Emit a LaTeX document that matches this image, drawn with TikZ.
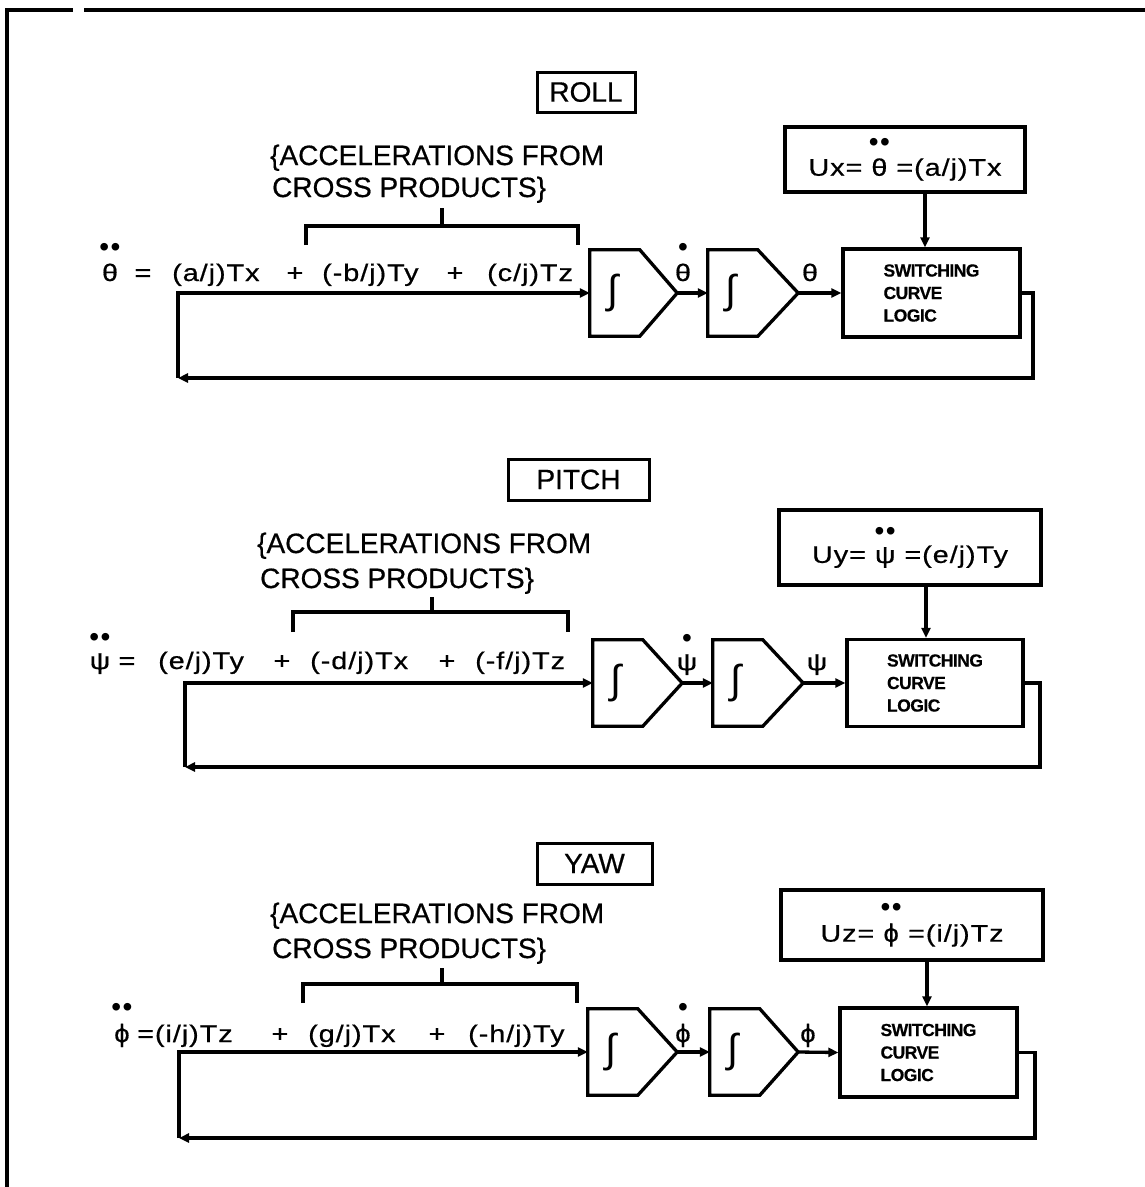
\documentclass[tikz,border=0pt]{standalone}
\usepackage{fontspec}
\setmainfont{Liberation Sans}
\newfontfamily\eqf[FakeStretch=1.2,LetterSpace=4,FakeBold=0.6]{Liberation Sans}
\newfontfamily\accf[FakeBold=0.6]{Liberation Sans}
\newfontfamily\swf[LetterSpace=-3,FakeBold=0.5]{Liberation Sans}
\newfontfamily\phif[FakeBold=0.6]{DejaVu Sans}
\newcommand\phic{{\phif ϕ}}
\usetikzlibrary{arrows.meta,calc}
\newcommand\dotsover[2]{\leavevmode\setbox0\hbox{#2}\rlap{\hbox to\wd0{\hss\raisebox{\dimexpr\ht0+7pt\relax}{\normalfont\fontsize{28}{28}\selectfont #1}\hss}}\box0\relax}
\newcommand\ddt[1]{\dotsover{•\kern1.5pt•}{#1}}
\newcommand\sdt[1]{\dotsover{•}{#1}}
\tikzset{
  blk/.style={line width=3.3pt, line join=miter},
  arr/.style={blk, -{Triangle[length=10pt,width=9pt]}},
  eq/.style={font=\eqf\fontsize{24}{28}\selectfont, inner sep=0pt, anchor=base west},
  eqc/.style={font=\eqf\fontsize{24}{28}\selectfont, inner sep=0pt, anchor=base},
  acc/.style={font=\accf\fontsize{28}{32}\selectfont, inner sep=0pt, anchor=base west},
  ttl/.style={draw, line width=3pt, font=\accf\fontsize{28}{32}\selectfont, inner sep=0pt},
  ubox/.style={draw, line width=3.3pt, font=\eqf\fontsize{24}{28}\selectfont, inner sep=0pt},
  swbox/.style={draw, line width=3.3pt, font=\swf\bfseries\fontsize{17.5}{22.5}\selectfont, align=left, inner sep=0pt},
  intg/.style={minimum height=86pt, inner sep=0pt},
  isym/.style={font=\fontsize{40}{40}\selectfont, inner sep=0pt},
}
\newcommand\integ[3]{%
  \node[intg, minimum width=#3] (#1) at #2 {};
  \draw[blk] (#1.north west) -- ([xshift=50pt]#1.north west) -- (#1.east) -- ([xshift=50pt]#1.south west) -- (#1.south west) -- cycle;
  \node[isym] (#1-s) at ([xshift=23pt]#1.west) {∫};
}
\begin{document}
\begin{tikzpicture}[x=1pt,y=-1pt]
\useasboundingbox (0,0) rectangle (1145,1187);
% frame
\coordinate (f1) at (5,10); \coordinate (f2) at (73,10);
\coordinate (f3) at (84,10); \coordinate (f4) at (1145,10);
\coordinate (f5) at (7,9); \coordinate (f6) at (7,1187);
\draw[line width=3.3pt] (f1) -- (f2) (f3) -- (f4);
\draw[line width=3.3pt] (f5) -- (f6);

% ================= ROLL =================
\node[ttl, minimum width=98pt, minimum height=40pt] (r-t) at (586,92) {ROLL};
\node[acc] (r-a1) at (270,165) {\{ACCELERATIONS FROM};
\node[acc] (r-a2) at (272,197) {CROSS PRODUCTS\}};
\coordinate (r-b1) at (306,245); \coordinate (r-b2) at (306,226);
\coordinate (r-b3) at (578,226); \coordinate (r-b4) at (578,245);
\coordinate (r-bs) at (442,208); \coordinate (r-bm) at (442,226);
\draw[blk] (r-b1) -- (r-b2) -- (r-b3) -- (r-b4);
\draw[blk] (r-bs) -- (r-bm);
\node[eqc] (r-e0) at (110,281) {\ddt{θ}};
\node[eqc] (r-eq) at (143,281) {=};
\node[eq] (r-e1) at (172,281) {(a/j)Tx};
\node[eqc] (r-p1) at (295,281) {+};
\node[eq] (r-e2) at (322,281) {(-b/j)Ty};
\node[eqc] (r-p2) at (455,281) {+};
\node[eq] (r-e3) at (487,281) {(c/j)Tz};
\integ{r-i1}{(633.5,293)}{87pt}
\integ{r-i2}{(753,293)}{90pt}
\node[eqc] (r-l1) at (683,281) {\sdt{θ}};
\node[eqc] (r-l2) at (810,281) {θ};
\node[swbox, minimum width=177pt, minimum height=88pt] (r-sw) at (931.5,293) {SWITCHING\\CURVE\\LOGIC};
\node[ubox, minimum width=240pt, minimum height=65pt] (r-u) at (905,159.5) {Ux= \ddt{θ} =(a/j)Tx};
\coordinate (r-fr) at (1033,378); \coordinate (r-fl) at (178,378); \coordinate (r-in) at (178,293);
\draw[arr] (r-sw.east) -| (r-fr) -- (r-fl);
\draw[arr] (r-fl) -- (r-in) -- (r-i1.west);
\draw[arr] (r-i1.east) -- (r-i2.west);
\draw[arr] (r-i2.east) -- (r-sw.west);
\draw[arr] ([xshift=20pt]r-u.south) -- ([xshift=20pt]r-u.south |- r-sw.north);

% ================= PITCH =================
\node[ttl, minimum width=141pt, minimum height=41pt] (p-t) at (578.5,479.5) {PITCH};
\node[acc] (p-a1) at (257,553) {\{ACCELERATIONS FROM};
\node[acc] (p-a2) at (260,588) {CROSS PRODUCTS\}};
\coordinate (p-b1) at (293,632); \coordinate (p-b2) at (293,612);
\coordinate (p-b3) at (568,612); \coordinate (p-b4) at (568,632);
\coordinate (p-bs) at (432,597); \coordinate (p-bm) at (432,612);
\draw[blk] (p-b1) -- (p-b2) -- (p-b3) -- (p-b4);
\draw[blk] (p-bs) -- (p-bm);
\node[eqc] (p-e0) at (100,669) {\ddt{ψ}};
\node[eqc] (p-eq) at (127,669) {=};
\node[eq] (p-e1) at (158,669) {(e/j)Ty};
\node[eqc] (p-p1) at (282,669) {+};
\node[eq] (p-e2) at (310,669) {(-d/j)Tx};
\node[eqc] (p-p2) at (447,669) {+};
\node[eq] (p-e3) at (475,669) {(-f/j)Tz};
\integ{p-i1}{(637.5,683)}{89pt}
\integ{p-i2}{(758,683)}{90pt}
\node[eqc] (p-l1) at (687,670) {\sdt{ψ}};
\node[eqc] (p-l2) at (817,670) {ψ};
\node[swbox, minimum width=176pt, minimum height=87pt] (p-sw) at (935,683) {SWITCHING\\CURVE\\LOGIC};
\node[ubox, minimum width=262pt, minimum height=75pt] (p-u) at (910,547.5) {Uy= \ddt{ψ} =(e/j)Ty};
\coordinate (p-fr) at (1040,767); \coordinate (p-fl) at (185,767); \coordinate (p-in) at (185,683);
\draw[arr] (p-sw.east) -| (p-fr) -- (p-fl);
\draw[arr] (p-fl) -- (p-in) -- (p-i1.west);
\draw[arr] (p-i1.east) -- (p-i2.west);
\draw[arr] (p-i2.east) -- (p-sw.west);
\draw[arr] ([xshift=16pt]p-u.south) -- ([xshift=16pt]p-u.south |- p-sw.north);

% ================= YAW =================
\node[ttl, minimum width=115pt, minimum height=41pt] (y-t) at (594.5,863.5) {YAW};
\node[acc] (y-a1) at (270,923) {\{ACCELERATIONS FROM};
\node[acc] (y-a2) at (272,958) {CROSS PRODUCTS\}};
\coordinate (y-b1) at (303,1003); \coordinate (y-b2) at (303,984);
\coordinate (y-b3) at (577,984); \coordinate (y-b4) at (577,1003);
\coordinate (y-bs) at (442,968); \coordinate (y-bm) at (442,984);
\draw[blk] (y-b1) -- (y-b2) -- (y-b3) -- (y-b4);
\draw[blk] (y-bs) -- (y-bm);
\node[eqc] (y-e0) at (122,1042) {\ddt{\phic}};
\node[eq] (y-eq) at (137,1042) {=(i/j)Tz};
\node[eqc] (y-p1) at (280,1042) {+};
\node[eq] (y-e2) at (308,1042) {(g/j)Tx};
\node[eqc] (y-p2) at (437,1042) {+};
\node[eq] (y-e3) at (468,1042) {(-h/j)Ty};
\integ{y-i1}{(632.5,1052)}{89pt}
\integ{y-i2}{(754,1052)}{88pt}
\node[eqc] (y-l1) at (683,1042) {\sdt{\phic}};
\node[eqc] (y-l2) at (808,1042) {\phic};
\node[swbox, minimum width=177pt, minimum height=89pt] (y-sw) at (928.5,1052.5) {SWITCHING\\CURVE\\LOGIC};
\node[ubox, minimum width=262pt, minimum height=70pt] (y-u) at (912,925) {Uz= \ddt{\phic} =(i/j)Tz};
\coordinate (y-fr) at (1035,1138); \coordinate (y-fl) at (179,1138); \coordinate (y-in) at (179,1052);
\draw[arr] (y-sw.east) -| (y-fr) -- (y-fl);
\draw[arr] (y-fl) -- (y-in) -- (y-i1.west);
\draw[arr] (y-i1.east) -- (y-i2.west);
\draw[arr] (y-i2.east) -- (y-sw.west);
\draw[arr] ([xshift=15pt]y-u.south) -- ([xshift=15pt]y-u.south |- y-sw.north);
\end{tikzpicture}
\end{document}
